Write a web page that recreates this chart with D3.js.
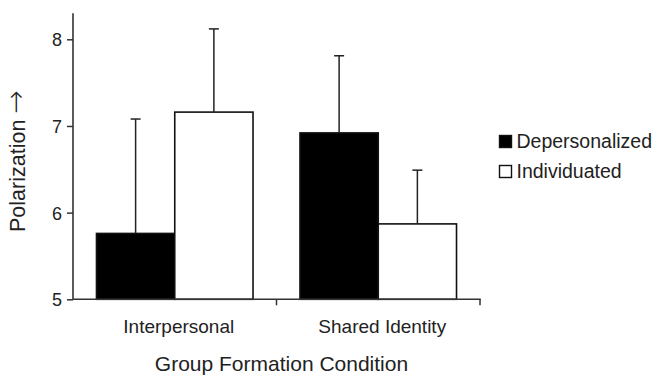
<!DOCTYPE html>
<html><head><meta charset="utf-8">
<script src="https://cdn.jsdelivr.net/npm/d3@7"></script>
<style>
html,body{margin:0;padding:0;background:#fff;}
text{font-family:"Liberation Sans",Arial,Helvetica,sans-serif;fill:#222;}
</style></head>
<body>
<svg id="chart" width="652" height="375"></svg>
<script>
const categories = ["Interpersonal", "Shared Identity"];
const seriesNames = ["Depersonalized", "Individuated"];
const seriesFills = ["#000000", "#ffffff"];
const depersonalized = [5.76, 6.92];
const individuated = [7.16, 5.87];
const depersonalizedErr = [1.32, 0.89];
const individuatedErr = [0.96, 0.62];
const yTicks = [5, 6, 7, 8];
const yDomain = [5, 8.3];
const xTitle = "Group Formation Condition";
const yTitleWord = "Polarization";
const yTitleArrow = "\u2192";

(function () {
const svg = d3.select("#chart");
const mLeft = 73, mRight = 480, mTop = 13.3, mBottom = 299.3;

const x = d3.scaleBand().domain(categories).range([mLeft, mRight]).padding(0);
const xs = d3.scaleBand().domain(seriesNames).range([0, x.bandwidth()]).paddingInner(0).paddingOuter(0.3);
const y = d3.scaleLinear().domain(yDomain).range([mBottom, mTop]);

const values = [depersonalized, individuated];
const errs = [depersonalizedErr, individuatedErr];
const data = [];
categories.forEach((c, i) => seriesNames.forEach((s, j) => {
  data.push({cat: c, s: s, v: values[j][i], e: errs[j][i], fill: seriesFills[j]});
}));

// bars
svg.append("g").selectAll("rect").data(data).join("rect")
  .attr("x", d => x(d.cat) + xs(d.s))
  .attr("y", d => y(d.v))
  .attr("width", xs.bandwidth())
  .attr("height", d => y(yDomain[0]) - y(d.v))
  .attr("fill", d => d.fill)
  .attr("stroke", "#111")
  .attr("stroke-width", 1.6);

// error bars
const eg = svg.append("g").attr("stroke", "#222").attr("stroke-width", 1.5);
data.forEach(d => {
  const cx = x(d.cat) + xs(d.s) + xs.bandwidth() / 2;
  eg.append("line").attr("x1", cx).attr("x2", cx).attr("y1", y(d.v)).attr("y2", y(d.v + d.e));
  eg.append("line").attr("x1", cx - 5).attr("x2", cx + 5).attr("y1", y(d.v + d.e)).attr("y2", y(d.v + d.e));
});

// y axis
const ya = svg.append("g").attr("transform", `translate(${mLeft},0)`)
  .call(d3.axisLeft(y).tickValues(yTicks).tickSize(6).tickPadding(5).tickFormat(d3.format("d")));
ya.select(".domain").remove();
ya.selectAll(".tick line").attr("stroke", "#333").attr("stroke-width", 1.5);
ya.selectAll(".tick text").style("font-size", "18px").attr("dy", "0.36em");
svg.append("line").attr("x1", mLeft).attr("x2", mLeft).attr("y1", y(yDomain[1])).attr("y2", mBottom + 0.8)
  .attr("stroke", "#333").attr("stroke-width", 1.6);

// x axis
svg.append("line").attr("x1", mLeft).attr("x2", mRight + 0.8).attr("y1", mBottom).attr("y2", mBottom)
  .attr("stroke", "#333").attr("stroke-width", 1.6);
categories.forEach(c => {
  const bx = x(c) + x.bandwidth();
  svg.append("line").attr("x1", bx).attr("x2", bx).attr("y1", mBottom).attr("y2", mBottom + 6)
    .attr("stroke", "#333").attr("stroke-width", 1.5);
  svg.append("text").attr("x", x(c) + x.bandwidth() / 2 + 4).attr("y", 333)
    .attr("text-anchor", "middle").style("font-size", "19px").text(c);
});

// axis titles
svg.append("text").attr("x", (mLeft + mRight) / 2 + 5).attr("y", 371)
  .attr("text-anchor", "middle").style("font-size", "21px").text(xTitle);
const yt = svg.append("text").attr("transform", `translate(25,232) rotate(-90)`)
  .attr("text-anchor", "start").style("font-size", "21.5px");
yt.append("tspan").text(yTitleWord + " ");
yt.append("tspan").style("font-family", "'DejaVu Sans'").style("font-size", "28px").style("font-weight", "300").attr("dy", "0").text(yTitleArrow);

// legend
const lg = svg.append("g");
seriesNames.forEach((s, j) => {
  const yy = 135 + j * 30;
  lg.append("rect").attr("x", 499.5).attr("y", yy + 0.5).attr("width", 12).attr("height", 12)
    .attr("fill", seriesFills[j]).attr("stroke", "#111").attr("stroke-width", 1.4);
  lg.append("text").attr("x", 516.5).attr("y", yy + 13).style("font-size", "19.5px").text(s);
});
})();
</script>
</body></html>
